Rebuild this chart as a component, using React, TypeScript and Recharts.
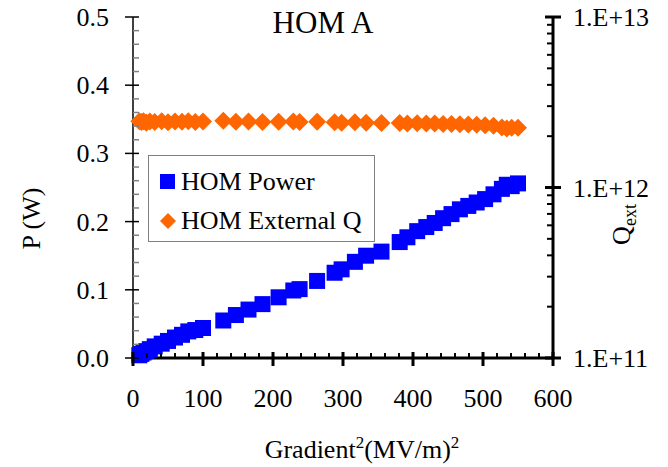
import { ScatterChart, Scatter, XAxis, YAxis, Legend } from "recharts";

const FONT = '"Liberation Serif", "Times New Roman", serif';

// gradient^2 (MV/m)^2, shared by both series
const gradSq = [
  9, 12, 15, 19, 24, 31, 41, 50, 60, 70, 79, 89, 100, 129, 147, 165, 185, 208,
  229, 238, 263, 288, 298, 317, 333, 355, 381, 392, 406, 419, 431, 443, 455,
  467, 479, 491, 503, 515, 527, 534, 541, 550,
];

// HOM power (W)
const homPower = [
  0.004, 0.006, 0.008, 0.01, 0.013, 0.017, 0.021, 0.025, 0.03, 0.034, 0.039,
  0.041, 0.044, 0.055, 0.063, 0.071, 0.079, 0.089, 0.099, 0.101, 0.113, 0.125,
  0.13, 0.141, 0.15, 0.156, 0.17, 0.177, 0.186, 0.192, 0.198, 0.205, 0.211,
  0.218, 0.223, 0.228, 0.233, 0.24, 0.248, 0.254, 0.252, 0.256,
];

// HOM external Q
const homQext = [
  2.45e12, 2.42e12, 2.45e12, 2.4e12, 2.44e12, 2.42e12, 2.45e12, 2.41e12,
  2.44e12, 2.43e12, 2.45e12, 2.42e12, 2.44e12, 2.46e12, 2.43e12, 2.44e12,
  2.42e12, 2.43e12, 2.44e12, 2.42e12, 2.43e12, 2.41e12, 2.4e12, 2.41e12,
  2.4e12, 2.39e12, 2.39e12, 2.37e12, 2.38e12, 2.37e12, 2.37e12, 2.36e12,
  2.36e12, 2.35e12, 2.34e12, 2.33e12, 2.32e12, 2.3e12, 2.25e12, 2.22e12,
  2.24e12, 2.24e12,
];

const xTicks = [
  0, 20, 40, 60, 80, 100, 120, 140, 160, 180, 200, 220, 240, 260, 280, 300,
  320, 340, 360, 380, 400, 420, 440, 460, 480, 500, 520, 540, 560, 580, 600,
];
const pTicks = [
  0, 0.02, 0.04, 0.06, 0.08, 0.1, 0.12, 0.14, 0.16, 0.18, 0.2, 0.22, 0.24,
  0.26, 0.28, 0.3, 0.32, 0.34, 0.36, 0.38, 0.4, 0.42, 0.44, 0.46, 0.48, 0.5,
];
const qTicks = [
  1e11, 2e11, 3e11, 4e11, 5e11, 6e11, 7e11, 8e11, 9e11, 1e12, 2e12, 3e12,
  4e12, 5e12, 6e12, 7e12, 8e12, 9e12, 1e13,
];

const powerData = gradSq.map((x, i) => ({ x, p: homPower[i] }));
const qData = gradSq.map((x, i) => ({ x, q: homQext[i] }));

const isMult = (v: number, step: number) =>
  Math.abs(v / step - Math.round(v / step)) < 1e-6;

function XTick(props: any) {
  const { x, y, payload } = props;
  const major = isMult(payload.value, 100);
  return (
    <g>
      <line
        x1={x}
        x2={x}
        y1={major ? y - 6 : y - 5}
        y2={major ? y + 8 : y}
        stroke="#000"
        strokeWidth={major ? 3 : 2}
      />
      {major && (
        <text x={x} y={y + 49} textAnchor="middle" fontSize={26} fontFamily={FONT} fill="#000">
          {payload.value}
        </text>
      )}
    </g>
  );
}

function PTick(props: any) {
  const { x, y, payload } = props;
  const major = isMult(payload.value, 0.1);
  return (
    <g>
      <line
        x1={major ? x - 8 : x}
        x2={x + 6}
        y1={y}
        y2={y}
        stroke={major ? "#000" : "#808080"}
        strokeWidth={1.5}
      />
      {major && (
        <text x={x - 24} y={y} dy={9} textAnchor="end" fontSize={26} fontFamily={FONT} fill="#000">
          {payload.value.toFixed(1)}
        </text>
      )}
    </g>
  );
}

function QTick(props: any) {
  const { x, y, payload } = props;
  const exp = Math.log10(payload.value);
  const major = Math.abs(exp - Math.round(exp)) < 1e-6;
  return (
    <g>
      <line
        x1={major ? x - 8 : x - 6}
        x2={major ? x + 8 : x}
        y1={y}
        y2={y}
        stroke="#000"
        strokeWidth={major ? 3 : 2}
      />
      {major && (
        <text x={x + 20} y={y} dy={9} textAnchor="start" fontSize={26} fontFamily={FONT} fill="#000">
          {`1.E+${Math.round(exp)}`}
        </text>
      )}
    </g>
  );
}

function XLabel(props: any) {
  const vb = props.viewBox;
  return (
    <text
      x={vb.x + vb.width / 2 + 19}
      y={vb.y + 100}
      textAnchor="middle"
      fontSize={26}
      fontFamily={FONT}
      fill="#000"
    >
      Gradient
      <tspan fontSize={17} dy={-10}>2</tspan>
      <tspan fontSize={26} dy={10}>(MV/m)</tspan>
      <tspan fontSize={17} dy={-10}>2</tspan>
    </text>
  );
}

function PLabel(props: any) {
  const vb = props.viewBox;
  const cx = vb.x + 31;
  const cy = vb.y + vb.height / 2 + 31;
  return (
    <text
      x={cx}
      y={cy}
      dy={9}
      transform={`rotate(-90, ${cx}, ${cy})`}
      textAnchor="middle"
      fontSize={26}
      fontFamily={FONT}
      fill="#000"
    >
      P (W)
    </text>
  );
}

function QLabel(props: any) {
  const vb = props.viewBox;
  const cx = vb.x + 69;
  const cy = vb.y + vb.height / 2 + 37;
  return (
    <text
      x={cx}
      y={cy}
      dy={8}
      transform={`rotate(-90, ${cx}, ${cy})`}
      textAnchor="middle"
      fontSize={26}
      fontFamily={FONT}
      fill="#000"
    >
      Q
      <tspan fontSize={18} dy={6}>ext</tspan>
    </text>
  );
}

function SquareMark(props: any) {
  const { cx, cy } = props;
  if (cx == null || cy == null) return <g />;
  return <rect x={cx - 8} y={cy - 8} width={16} height={16} fill="#0000FF" />;
}

function DiamondMark(props: any) {
  const { cx, cy } = props;
  if (cx == null || cy == null) return <g />;
  const r = 9;
  return (
    <polygon
      points={`${cx},${cy - r} ${cx + r},${cy} ${cx},${cy + r} ${cx - r},${cy}`}
      fill="#FF6600"
    />
  );
}

function LegendBox() {
  return (
    <div
      style={{
        border: "1.5px solid #808080",
        background: "#fff",
        width: 227,
        height: 87,
        boxSizing: "border-box",
        fontFamily: FONT,
        fontSize: 26,
        color: "#000",
        paddingLeft: 11,
        paddingTop: 6,
        lineHeight: "39px",
      }}
    >
      <div style={{ display: "flex", alignItems: "center" }}>
        <svg width={15} height={15} style={{ marginRight: 6 }}>
          <rect width={15} height={15} fill="#0000FF" />
        </svg>
        HOM Power
      </div>
      <div style={{ display: "flex", alignItems: "center" }}>
        <svg width={16} height={16} style={{ marginRight: 5 }}>
          <polygon points="8,0 16,8 8,16 0,8" fill="#FF6600" />
        </svg>
        HOM External Q
      </div>
    </div>
  );
}

export default function App() {
  return (
    <div style={{ position: "relative", width: 668, height: 467, background: "#fff" }}>
      <style>{"body{margin:0}"}</style>
      <ScatterChart
        width={668}
        height={467}
        margin={{ top: 17, right: 0, bottom: 0, left: 0 }}
      >
        <XAxis
          type="number"
          dataKey="x"
          domain={[0, 600]}
          ticks={xTicks}
          interval={0}
          tickLine={false}
          tickSize={0}
          tickMargin={0}
          axisLine={{ stroke: "#000", strokeWidth: 3 }}
          height={109}
          tick={XTick}
          label={XLabel}
        />
        <YAxis
          yAxisId="p"
          type="number"
          dataKey="p"
          orientation="left"
          domain={[0, 0.5]}
          ticks={pTicks}
          interval={0}
          tickLine={false}
          tickSize={0}
          tickMargin={0}
          axisLine={{ stroke: "#000", strokeWidth: 1.5 }}
          width={133}
          tick={PTick}
          label={PLabel}
        />
        <YAxis
          yAxisId="q"
          type="number"
          dataKey="q"
          orientation="right"
          scale="log"
          domain={[1e11, 1e13]}
          allowDataOverflow
          ticks={qTicks}
          interval={0}
          tickLine={false}
          tickSize={0}
          tickMargin={0}
          axisLine={{ stroke: "#000", strokeWidth: 3 }}
          width={115}
          tick={QTick}
          label={QLabel}
        />
        <Legend
          layout="vertical"
          align="center"
          verticalAlign="middle"
          content={LegendBox}
          wrapperStyle={{ left: 148, top: 155, width: 227, height: 87 }}
        />
        <Scatter
          name="HOM Power"
          yAxisId="p"
          data={powerData}
          shape={SquareMark}
          isAnimationActive={false}
        />
        <Scatter
          name="HOM External Q"
          yAxisId="q"
          data={qData}
          shape={DiamondMark}
          isAnimationActive={false}
        />
      </ScatterChart>
      <div
        style={{
          position: "absolute",
          left: 0,
          width: 646,
          top: 6,
          textAlign: "center",
          fontFamily: FONT,
          fontSize: 31,
          lineHeight: "34px",
          color: "#000",
        }}
      >
        HOM A
      </div>
    </div>
  );
}
